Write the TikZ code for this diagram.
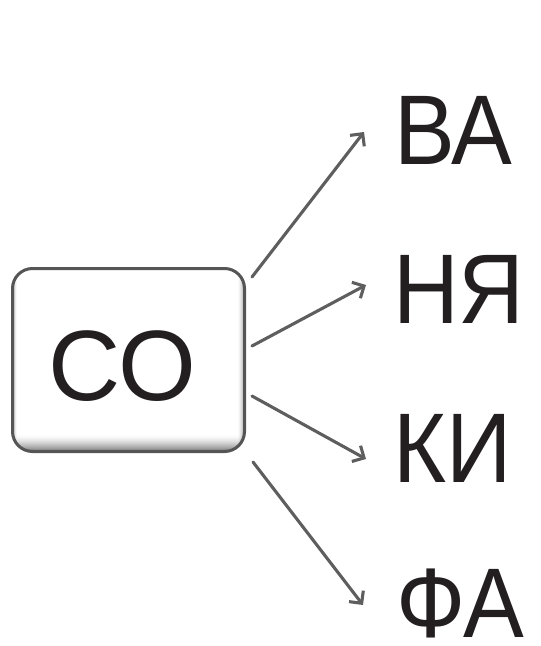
\documentclass[tikz,border=0pt]{standalone}
\usepackage{fontspec}
\setmainfont{Liberation Sans}
\newfontfamily\labelfont[FakeStretch=0.92]{Liberation Sans}
\usetikzlibrary{arrows.meta,calc}
\definecolor{arrowgray}{HTML}{5E5E5E}
\definecolor{boxedge}{HTML}{555555}
\definecolor{ink}{HTML}{231F20}
\tikzset{
  big/.style={font=\labelfont\fontsize{99}{101}\selectfont, text=ink, inner sep=0pt, anchor=base west},
  conn/.style={draw=arrowgray, line width=3.1pt, line cap=round, -{Straight Barb[length=9pt,width=18pt,line width=3.1pt]}},
  keybox/.style={draw=boxedge, line width=3pt, rounded corners=20pt, fill=white,
    minimum width=232pt, minimum height=183pt, inner sep=0pt,
    path picture={
      \foreach \k in {0,...,17}{
        \pgfmathsetmacro{\shade}{(\k/17)^1.6*52}
        \fill[sharp corners, black!\shade]
          ($(path picture bounding box.south west)+(0,18pt-\k pt)$) rectangle ($(path picture bounding box.south east)+(0,17pt-\k pt)$);
      }
      \foreach \k in {0,...,7}{
        \pgfmathsetmacro{\shade}{(\k/7)^1.6*35}
        \fill[sharp corners, black, opacity=\shade/100]
          ($(path picture bounding box.north east)+(-8pt+\k pt,0)$) rectangle ($(path picture bounding box.south east)+(-7pt+\k pt,0)$);
      }
      \foreach \k in {0,...,4}{
        \pgfmathsetmacro{\shade}{((4-\k)/4)^1.6*25}
        \fill[sharp corners, black, opacity=\shade/100]
          ($(path picture bounding box.north west)+(\k pt,0)$) rectangle ($(path picture bounding box.south west)+(\k pt+1pt,0)$);
      }
    }}
}
\begin{document}
\begin{tikzpicture}[x=1pt,y=-1pt]
\useasboundingbox (0,0) rectangle (541,646);
\node[keybox] (box) at (128.5,360) {};
\node[font=\fontsize{100}{102}\selectfont, text=ink, inner sep=0pt] (so) at (122,366) {СО};
\node[big] (va) at (394,164) {ВА};
\node[big] (nya) at (393,323) {НЯ};
\node[big] (ki) at (393,482) {КИ};
\node[big] (fa) at (396,637) {ФА};
\coordinate (s1) at (252,277);
\coordinate (s2) at (252,346);
\coordinate (s3) at (252,396);
\coordinate (s4) at (253,462);
\coordinate (e1) at (364,132);
\coordinate (e2) at (366,285);
\coordinate (e3) at (366,459);
\coordinate (e4) at (363,605);
\draw[conn] (s1) -- (e1);
\draw[conn] (s2) -- (e2);
\draw[conn] (s3) -- (e3);
\draw[conn] (s4) -- (e4);
\end{tikzpicture}
\end{document}
